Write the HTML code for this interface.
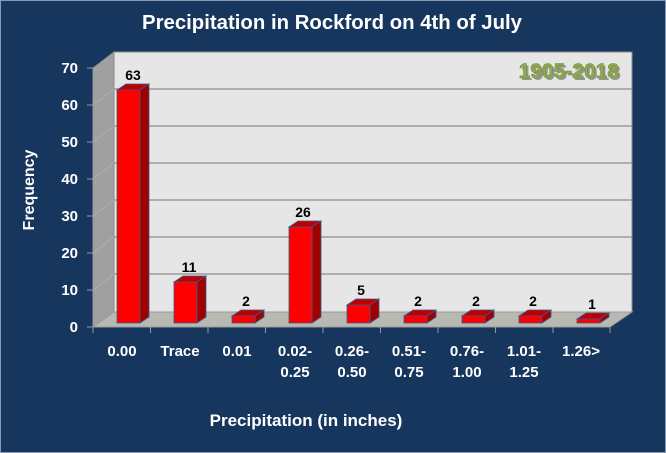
<!DOCTYPE html>
<html><head><meta charset="utf-8"><style>
html,body{margin:0;padding:0;background:#17365d}
svg{display:block;font-family:"Liberation Sans",sans-serif;font-weight:bold}
</style></head><body>
<svg width="666" height="453" viewBox="0 0 666 453" xmlns="http://www.w3.org/2000/svg">
<rect x="0" y="0" width="666" height="453" fill="#17365d"/>
<rect x="0.5" y="0.5" width="665" height="452" fill="none" stroke="#8a9bb0" stroke-width="1"/>
<text x="332" y="29" fill="#fff" font-size="20" text-anchor="middle" textLength="380" lengthAdjust="spacingAndGlyphs">Precipitation in Rockford on 4th of July</text>
<rect x="114" y="52" width="518" height="260" fill="#e6e6e6" stroke="#8c8c8c" stroke-width="1"/>
<g stroke="#8c8c8c" stroke-width="1.2">
<line x1="114" y1="89" x2="632" y2="89"/><line x1="114" y1="126" x2="632" y2="126"/>
<line x1="114" y1="163" x2="632" y2="163"/><line x1="114" y1="200" x2="632" y2="200"/>
<line x1="114" y1="237" x2="632" y2="237"/><line x1="114" y1="274" x2="632" y2="274"/>
</g>
<polygon points="93,68 114,52 114,312 93,327" fill="#a0a0a0" stroke="#8c8c8c"/>
<g stroke="#b0b0b0" stroke-width="0.8">
<line x1="93" y1="105" x2="114" y2="89"/><line x1="93" y1="142" x2="114" y2="126"/>
<line x1="93" y1="179" x2="114" y2="163"/><line x1="93" y1="216" x2="114" y2="200"/>
<line x1="93" y1="253" x2="114" y2="237"/><line x1="93" y1="290" x2="114" y2="274"/>
</g>
<polygon points="93,327 114,312 632,312 610,327" fill="#b8b9b2" stroke="#9a9a9a"/>
<g stroke="#9a9a9a" stroke-width="1">
<line x1="93" y1="68" x2="93" y2="327"/>
<line x1="87" y1="68" x2="93" y2="68"/><line x1="87" y1="105" x2="93" y2="105"/><line x1="87" y1="142" x2="93" y2="142"/><line x1="87" y1="179" x2="93" y2="179"/><line x1="87" y1="216" x2="93" y2="216"/><line x1="87" y1="253" x2="93" y2="253"/><line x1="87" y1="290" x2="93" y2="290"/><line x1="87" y1="327" x2="93" y2="327"/>
<line x1="93" y1="327" x2="610" y2="327"/>
<line x1="93" y1="327" x2="93" y2="333"/><line x1="150.5" y1="327" x2="150.5" y2="333"/><line x1="208" y1="327" x2="208" y2="333"/><line x1="265.5" y1="327" x2="265.5" y2="333"/><line x1="323" y1="327" x2="323" y2="333"/><line x1="380.5" y1="327" x2="380.5" y2="333"/><line x1="438" y1="327" x2="438" y2="333"/><line x1="495.5" y1="327" x2="495.5" y2="333"/><line x1="553" y1="327" x2="553" y2="333"/><line x1="610" y1="327" x2="610" y2="333"/>
</g>
<g fill="#fff" font-size="15" text-anchor="end">
<text x="78" y="73">70</text><text x="78" y="110">60</text><text x="78" y="147">50</text><text x="78" y="184">40</text><text x="78" y="221">30</text><text x="78" y="258">20</text><text x="78" y="295">10</text><text x="78" y="332">0</text>
</g>
<text transform="translate(34,190) rotate(-90)" fill="#fff" font-size="16" text-anchor="middle">Frequency</text>
<g stroke="#3a5a8a" stroke-width="0.8">
<polygon points="117,90 126,84 149,84 140,90" fill="#c00000"/><polygon points="140,90 149,84 149,317 140,323" fill="#a00000"/><rect x="117" y="90" width="23" height="233" fill="#ff0000"/>
<polygon points="174,282 183,276 206,276 197,282" fill="#c00000"/><polygon points="197,282 206,276 206,317 197,323" fill="#a00000"/><rect x="174" y="282" width="23" height="41" fill="#ff0000"/>
<polygon points="232,316 241,310 264,310 255,316" fill="#c00000"/><polygon points="255,316 264,310 264,317 255,323" fill="#a00000"/><rect x="232" y="316" width="23" height="7" fill="#ff0000"/>
<polygon points="289,227 298,221 321,221 312,227" fill="#c00000"/><polygon points="312,227 321,221 321,317 312,323" fill="#a00000"/><rect x="289" y="227" width="23" height="96" fill="#ff0000"/>
<polygon points="347,305 356,299 379,299 370,305" fill="#c00000"/><polygon points="370,305 379,299 379,317 370,323" fill="#a00000"/><rect x="347" y="305" width="23" height="18" fill="#ff0000"/>
<polygon points="404,316 413,310 436,310 427,316" fill="#c00000"/><polygon points="427,316 436,310 436,317 427,323" fill="#a00000"/><rect x="404" y="316" width="23" height="7" fill="#ff0000"/>
<polygon points="462,316 471,310 494,310 485,316" fill="#c00000"/><polygon points="485,316 494,310 494,317 485,323" fill="#a00000"/><rect x="462" y="316" width="23" height="7" fill="#ff0000"/>
<polygon points="519,316 528,310 551,310 542,316" fill="#c00000"/><polygon points="542,316 551,310 551,317 542,323" fill="#a00000"/><rect x="519" y="316" width="23" height="7" fill="#ff0000"/>
<polygon points="577,319 586,313 609,313 600,319" fill="#c00000"/><polygon points="600,319 609,313 609,317 600,323" fill="#a00000"/><rect x="577" y="319" width="23" height="4" fill="#ff0000"/>
</g>
<g fill="#000" font-size="14" text-anchor="middle">
<text x="133" y="80">63</text><text x="189" y="272">11</text><text x="246" y="306">2</text><text x="303" y="217">26</text><text x="361" y="295">5</text><text x="418" y="306">2</text><text x="476" y="306">2</text><text x="533" y="306">2</text><text x="592" y="309">1</text>
</g>
<text x="621" y="80" fill="#000" opacity="0.35" font-size="21" text-anchor="end">1905-2018</text>
<text x="619" y="78" fill="#8faa4c" font-size="21" text-anchor="end" stroke="#6e8a34" stroke-width="0.5">1905-2018</text>
<g fill="#fff" font-size="15" text-anchor="middle">
<text x="122" y="356">0.00</text><text x="180" y="356">Trace</text><text x="237" y="356">0.01</text>
<text x="295" y="356">0.02-</text><text x="295" y="377">0.25</text>
<text x="352" y="356">0.26-</text><text x="352" y="377">0.50</text>
<text x="409" y="356">0.51-</text><text x="409" y="377">0.75</text>
<text x="467" y="356">0.76-</text><text x="467" y="377">1.00</text>
<text x="524" y="356">1.01-</text><text x="524" y="377">1.25</text>
<text x="581" y="356">1.26&gt;</text>
</g>
<text x="306" y="426" fill="#fff" font-size="17" text-anchor="middle">Precipitation (in inches)</text>
</svg>
</body></html>
